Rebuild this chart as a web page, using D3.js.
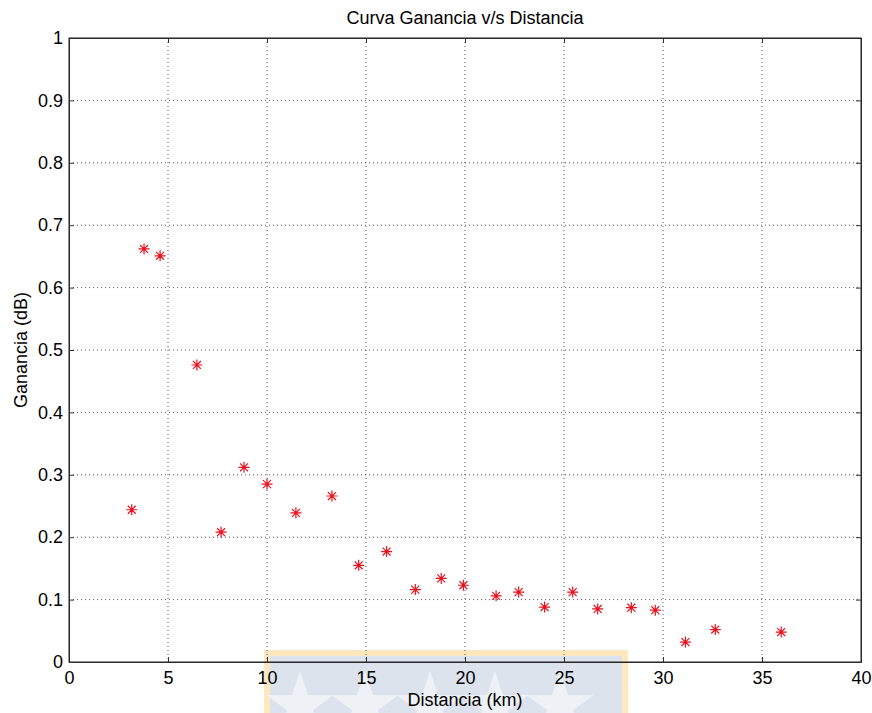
<!DOCTYPE html>
<html>
<head>
<meta charset="utf-8">
<script src="https://cdn.jsdelivr.net/npm/d3@7"></script>
<style>
  body { margin: 0; background: #fff; }
  text { font-family: "Liberation Sans", Arial, sans-serif; }
</style>
</head>
<body>
<svg id="chart" width="872" height="713"></svg>
<script>
// distance (km) and gain (dB)
const distancia = [3.17, 3.79, 4.6, 6.46, 7.68, 8.84, 10.0, 11.46, 13.28, 14.63, 16.04, 17.49, 18.8, 19.92,
                   21.57, 22.71, 24.02, 25.44, 26.7, 28.4, 29.61, 31.13, 32.64, 35.97];
const ganancia = [0.244, 0.662, 0.651, 0.476, 0.208, 0.312, 0.285, 0.239, 0.266, 0.155, 0.177, 0.116, 0.134, 0.123,
                  0.106, 0.112, 0.088, 0.112, 0.085, 0.087, 0.083, 0.032, 0.052, 0.048];
const xTicks = [0, 5, 10, 15, 20, 25, 30, 35, 40];
const yTicks = [0, 0.1, 0.2, 0.3, 0.4, 0.5, 0.6, 0.7, 0.8, 0.9, 1];

const svg = d3.select("#chart");
const margin = { top: 38, right: 11, bottom: 51, left: 69 };
const width = +svg.attr("width"), height = +svg.attr("height");
const w = width - margin.left - margin.right;
const h = height - margin.top - margin.bottom;

const x = d3.scaleLinear().domain([0, 40]).range([0, w]);
const y = d3.scaleLinear().domain([0, 1]).range([h, 0]);

// faint watermark behind the bottom of the chart
const wm = svg.append("g");
wm.append("rect")
    .attr("x", 267).attr("y", 653).attr("width", 358).attr("height", 70)
    .attr("fill", "#dce3ec").attr("stroke", "#fde8c0").attr("stroke-width", 6);
[300, 365, 430, 495, 560].forEach(cx => {
    wm.append("path")
        .attr("d", d3.symbol(d3.symbolStar, 1400)())
        .attr("transform", `translate(${cx},${706})`)
        .attr("fill", "#eef2f7");
});

const g = svg.append("g").attr("transform", `translate(${margin.left},${margin.top})`);

// grid
g.append("g").selectAll("line").data(xTicks.slice(1, -1)).join("line")
    .attr("x1", d => x(d)).attr("x2", d => x(d)).attr("y1", 0).attr("y2", h)
    .attr("stroke", "#555").attr("stroke-width", 1).attr("stroke-dasharray", "1,3");
g.append("g").selectAll("line").data(yTicks.slice(1, -1)).join("line")
    .attr("y1", d => y(d)).attr("y2", d => y(d)).attr("x1", 0).attr("x2", w)
    .attr("stroke", "#555").attr("stroke-width", 1).attr("stroke-dasharray", "1,3");

// axes (inward ticks, matlab style)
const xAxis = g.append("g").attr("transform", `translate(0,${h})`)
    .call(d3.axisBottom(x).tickValues(xTicks).tickSizeInner(-5).tickSizeOuter(0).tickPadding(9));
const yAxis = g.append("g")
    .call(d3.axisLeft(y).tickValues(yTicks).tickFormat(d => d === 1 || d === 0 ? d : d3.format(".1f")(d))
        .tickSizeInner(-5).tickSizeOuter(0).tickPadding(6));
[xAxis, yAxis].forEach(a => {
    a.selectAll("text").style("font-size", "18px").attr("fill", "#000");
    a.selectAll("line, path").attr("stroke", "#333");
});
// top and right ticks
g.append("g").call(d3.axisTop(x).tickValues(xTicks).tickSizeInner(-5).tickSizeOuter(0).tickFormat(""))
    .selectAll("line, path").attr("stroke", "#333");
g.append("g").attr("transform", `translate(${w},0)`)
    .call(d3.axisRight(y).tickValues(yTicks).tickSizeInner(-5).tickSizeOuter(0).tickFormat(""))
    .selectAll("line, path").attr("stroke", "#333");
g.append("rect").attr("width", w).attr("height", h)
    .attr("fill", "none").attr("stroke", "#222").attr("stroke-width", 1);

// asterisk markers
const pts = distancia.map((d, i) => ({ x: d, y: ganancia[i] }));
const r = 5.5, k = r * 0.72;
const star = `M0,${-r}V${r}M${-r},0H${r}M${-k},${-k}L${k},${k}M${-k},${k}L${k},${-k}`;
g.append("g").selectAll("path").data(pts).join("path")
    .attr("transform", d => `translate(${x(d.x)},${y(d.y)})`)
    .attr("d", star)
    .attr("fill", "none").attr("stroke", "#e8121e").attr("stroke-width", 1.2);

// titles
svg.append("text").attr("x", margin.left + w / 2).attr("y", 24)
    .attr("text-anchor", "middle").style("font-size", "18px").text("Curva Ganancia v/s Distancia");
svg.append("text").attr("x", margin.left + w / 2).attr("y", 706)
    .attr("text-anchor", "middle").style("font-size", "18px").text("Distancia (km)");
svg.append("text").attr("transform", `translate(27,${margin.top + h / 2}) rotate(-90)`)
    .attr("text-anchor", "middle").style("font-size", "18px").text("Ganancia (dB)");
</script>
</body>
</html>
